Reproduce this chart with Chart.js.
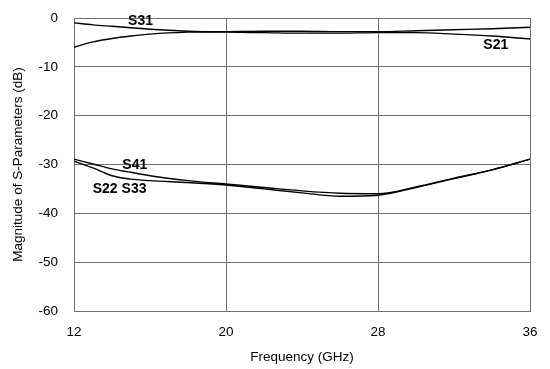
<!DOCTYPE html>
<html>
<head>
<meta charset="utf-8">
<script src="https://cdn.jsdelivr.net/npm/chart.js@4/dist/chart.umd.min.js"></script>
<style>
  html, body { margin: 0; padding: 0; background: #fff; }
  #chart { display: block; }
</style>
</head>
<body>
<canvas id="chart" width="550" height="369"></canvas>
<script>
// --- Data ---
const freqs = [12, 13, 14, 15, 16, 18, 20, 22, 24, 26, 28, 30, 32, 34, 36];
const s31 = [-1.0, -1.4, -1.7, -2.0, -2.3, -2.7, -2.9, -3.0, -3.1, -3.1, -3.0, -3.0, -3.3, -3.7, -4.3];
const s21 = [-6.0, -4.9, -4.2, -3.7, -3.3, -2.9, -2.8, -2.7, -2.7, -2.8, -2.8, -2.6, -2.4, -2.2, -1.9];
const s41 = [-28.9, -29.9, -30.9, -31.6, -32.3, -33.3, -34.0, -34.7, -35.4, -35.9, -36.0, -34.6, -32.8, -31.1, -28.9];
const s22s33 = [-29.3, -30.7, -32.3, -33.0, -33.3, -33.7, -34.2, -35.0, -35.8, -36.5, -36.3, -34.7, -32.9, -31.1, -28.9];

const xTicks = [12, 20, 28, 36];

// curve labels placed at data coordinates
const curveLabels = [
  { text: 'S31', x: 15.5, y: -0.6 },
  { text: 'S21', x: 34.2, y: -5.5 },
  { text: 'S41', x: 15.2, y: -30.1 },
  { text: 'S22 S33', x: 14.4, y: -35.0 }
];

const FONT = '"Liberation Sans", Arial, sans-serif';

function toPoints(ys) {
  return freqs.map((f, i) => ({ x: f, y: ys[i] }));
}

function lineSet(name, ys) {
  return {
    label: name,
    data: toPoints(ys),
    borderColor: '#000',
    borderWidth: 1.4,
    pointRadius: 0,
    cubicInterpolationMode: 'monotone',
    fill: false
  };
}

// --- Draws the S-parameter names on the plot ---
const labelPlugin = {
  id: 'curveLabels',
  afterDatasetsDraw(chart) {
    const ctx = chart.ctx;
    const xs = chart.scales.x, ys = chart.scales.y;
    ctx.save();
    ctx.font = 'bold 14px ' + FONT;
    ctx.fillStyle = '#000';
    ctx.textAlign = 'center';
    ctx.textBaseline = 'middle';
    curveLabels.forEach(l => {
      ctx.fillText(l.text, xs.getPixelForValue(l.x), ys.getPixelForValue(l.y));
    });
    ctx.restore();
  }
};

new Chart(document.getElementById('chart').getContext('2d'), {
  type: 'line',
  data: {
    datasets: [
      lineSet('S31', s31),
      lineSet('S21', s21),
      lineSet('S41', s41),
      lineSet('S22 S33', s22s33)
    ]
  },
  options: {
    responsive: false,
    animation: false,
    layout: { padding: { top: 18, right: 20, left: 0, bottom: 0 } },
    plugins: {
      legend: { display: false },
      tooltip: { enabled: false }
    },
    scales: {
      x: {
        type: 'linear',
        min: 12,
        max: 36,
        afterBuildTicks: (scale) => { scale.ticks = xTicks.map(v => ({ value: v })); },
        afterFit: (scale) => {
          scale.height = 58;
          scale.paddingLeft = 0;
          scale.paddingRight = 0;
        },
        grid: { color: '#707070', lineWidth: 1, drawTicks: false },
        border: { color: '#707070', width: 1 },
        ticks: {
          color: '#000',
          padding: 13,
          font: { family: FONT, size: 13.5 }
        },
        title: {
          display: true,
          text: 'Frequency (GHz)',
          color: '#000',
          font: { family: FONT, size: 13.5 },
          padding: { top: 3 }
        }
      },
      y: {
        min: -60,
        max: 0,
        afterFit: (scale) => {
          scale.width = 74;
          scale.paddingTop = 0;
          scale.paddingBottom = 0;
        },
        grid: { color: '#707070', lineWidth: 1, drawTicks: false },
        border: { color: '#707070', width: 1 },
        ticks: {
          stepSize: 10,
          color: '#000',
          padding: 16,
          font: { family: FONT, size: 13.5 }
        },
        title: {
          display: true,
          text: 'Magnitude of S-Parameters (dB)',
          color: '#000',
          font: { family: FONT, size: 13.5 },
          padding: { top: 10, bottom: 0 }
        }
      }
    }
  },
  plugins: [labelPlugin]
});
</script>
</body>
</html>
